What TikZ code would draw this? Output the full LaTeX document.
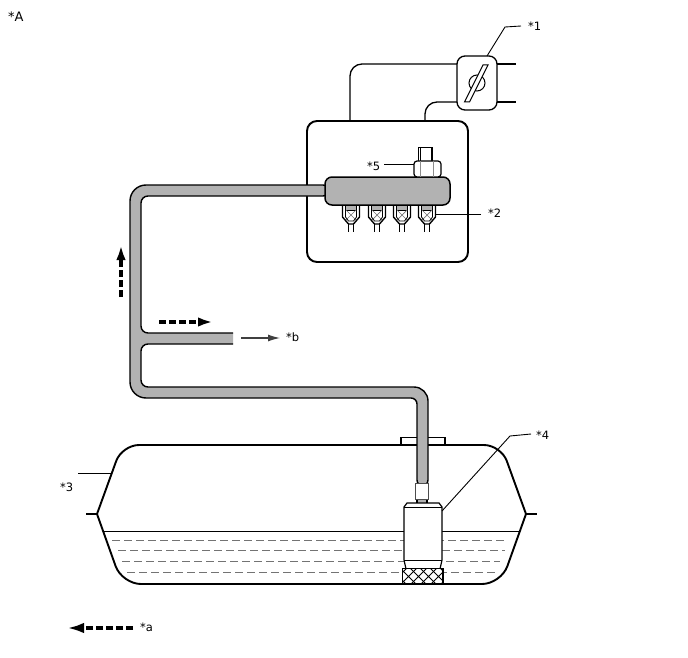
\documentclass[tikz,border=0pt]{standalone}
\usepackage{fontspec}
\setmainfont{DejaVu Sans}
\usetikzlibrary{arrows.meta}

\tikzset{
  callout/.style={font=\fontsize{11.5}{14}\selectfont,inner sep=0pt},
  leader/.style={line width=0.9pt},
  wire/.style={line width=1.3pt,rounded corners=12},
  heavy/.style={line width=1.9pt},
  pipefill/.style={fill=black!30,draw=black,line width=1.4pt},
  flowarrow/.style={line width=3.8pt,dash pattern=on 7pt off 3pt,-{Latex[length=15pt,width=9.5pt]}},
  fuelline/.style={black!55,line width=1pt,dash pattern=on 8pt off 4pt}
}

\begin{document}
\begin{tikzpicture}[x=1pt,y=-1pt]
  \useasboundingbox (0,0) rectangle (688,658);
  % caja del riel
  \node[draw,heavy,rounded corners=10,minimum width=161pt,minimum height=141pt,inner sep=0pt,outer sep=0pt] (box) at (387.5,191.5) {};
  % valvula y cables
  \node[draw,line width=1.3pt,rounded corners=8,minimum width=40pt,minimum height=54pt,inner sep=0pt,outer sep=0pt] (valve) at (477,83) {};
  \draw[wire] ([xshift=-37.5pt]box.north) |- ([yshift=19pt]valve.west);
  \draw[wire] ([xshift=37.5pt]box.north) |- ([yshift=-19pt]valve.west);
  \coordinate (stubA) at (516,64);
  \coordinate (stubB) at (516,102);
  \draw[line width=1.2pt] ([yshift=19pt]valve.east) -- (stubA);
  \draw[line width=1.2pt] ([yshift=-19pt]valve.east) -- (stubB);
  \draw[line width=1pt] (477,83) circle(8);
  \draw[line width=1pt,fill=white] (464.5,102) -- (469.5,102) -- (488,65) -- (483,65) -- cycle;
  % tanque
  \coordinate (earL) at (86,514);
  \coordinate (earR) at (537,514);
  \draw[line width=1pt] (103,531) -- (520,531);
  \foreach \yfuel/\xa/\xb in {540/112/507,550/118/505,561/122/500,572/127/498} {
    \draw[fuelline] (\xa,\yfuel) -- (\xb,\yfuel);
  }
  \draw[heavy] (401,445) -- (401,437.5) -- (445,437.5) -- (445,445);
  \draw[heavy,rounded corners=17] (97,514) -- (122,445) -- (501,445) -- (526,514);
  \draw[heavy,rounded corners=19] (97,514) -- (122,584) -- (501,584) -- (526,514);
  \draw[heavy] (earL) -- (97,514) (526,514) -- (earR);
  % tuberia
  \draw[pipefill] (233,333) -- (148,333) [rounded corners=7] -- (141,333) -- (141,196) -- (330,196) -- (330,185)
    [rounded corners=16] -- (130,185) -- (130,398) [rounded corners=6] -- (417,398) -- (417,486) -- (428,486)
    [rounded corners=14] -- (428,387) [rounded corners=7] -- (141,387) -- (141,344) -- (233,344);
  % riel e inyectores
  \foreach \inj in {351,377,402,427} {
    \begin{scope}[xshift=\inj pt]
      \draw[line width=1.3pt] (-2.5,223) -- (-2.5,232) (2.5,223) -- (2.5,232);
      \draw[line width=1.4pt,fill=white] (-8.5,204) -- (-8.5,217) -- (-2.5,224) -- (2.5,224) -- (8.5,217) -- (8.5,204) -- cycle;
      \draw[line width=1pt] (-5.5,204) -- (-5.5,217) (5.5,204) -- (5.5,217);
      \fill[black!30] (-5,204) rectangle (5,209.5);
      \draw[line width=0.8pt] (-5.5,210) -- (5.5,210);
      \draw[black!55,line width=0.7pt] (-5,210) -- (5,220) (-5,220) -- (5,210);
      \draw[line width=0.8pt] (-5.5,217) -- (-2.5,221) -- (2.5,221) -- (5.5,217);
    \end{scope}
  }
  \node[draw,pipefill,line width=1.5pt,rounded corners=7,minimum width=125pt,minimum height=28pt,inner sep=0pt,outer sep=0pt] (rail) at (387.5,191) {};
  % regulador
  \draw[line width=1.2pt,fill=white] (418.5,147.5) rectangle (432,161.5);
  \draw[line width=0.8pt] (420.5,147.5) -- (420.5,161.5);
  \node[draw,fill=white,line width=1.2pt,rounded corners=3,minimum width=27pt,minimum height=16pt,inner sep=0pt,outer sep=0pt] (nut) at (427.5,169) {};
  \draw[black!45,line width=0.8pt] (420,161) -- (420,177) (433,161) -- (433,177);
  % acople, bomba y filtro
  \draw[pipefill,line width=1.1pt] (417,498) rectangle (427,504);
  \node[draw=black!70,fill=white,line width=0.9pt,minimum width=13pt,minimum height=16pt,inner sep=0pt,outer sep=0pt] (coupler) at (421.5,491) {};
  \draw[line width=1.2pt,fill=white] (404,507) -- (407,503) -- (439,503) -- (442,507) -- (442,560) -- (440,569) -- (406,569) -- (404,560) -- cycle;
  \draw[line width=1pt] (404,507) -- (442,507) (404,560) -- (442,560);
  \begin{scope}
    \clip (402.5,568.5) rectangle (443,584);
    \fill[white] (402.5,568.5) rectangle (443,584);
    \foreach \xh in {390,400,...,450} {
      \draw[line width=0.9pt] (\xh,568) -- (\xh+17,585) (\xh,585) -- (\xh+17,568);
    }
  \end{scope}
  \draw[line width=1.1pt] (402.5,568.5) rectangle (443,584);
  % flechas de flujo
  \draw[flowarrow] (121,297) -- (121,245);
  \draw[flowarrow] (159,322) -- (213,322);
  \draw[flowarrow,-{Latex[length=17pt,width=10.5pt]}] (133,628) -- (67,628);
  \coordinate (vent) at (241,338);
  \node[callout,anchor=west] (lblb) at (286,337) {*b};
  \draw[black!75,line width=1.1pt,-{Latex[length=12pt,width=7pt]}] (vent) -- (280,338);
  % etiquetas
  \node[callout,font=\fontsize{13}{15}\selectfont,anchor=west] (lblA) at (8,17) {*A};
  \node[callout,anchor=west] (lbl1) at (528,26) {*1};
  \node[callout,anchor=west] (lbl2) at (488,213) {*2};
  \node[callout,anchor=west] (lbl3) at (60,487) {*3};
  \node[callout,anchor=west] (lbl4) at (536,435) {*4};
  \node[callout,anchor=west] (lbl5) at (367,166.5) {*5};
  \node[callout,anchor=west] (lbla) at (140,627) {*a};
  \coordinate (tank3) at (112,473);
  \coordinate (pump4) at (442,511);
  \coordinate (inj2) at (435,214);
  \draw[leader] ([xshift=-7pt]lbl1.west) -- (505,27) -- (487,56);
  \draw[leader] ([xshift=-7pt]lbl2.west |- inj2) -- (inj2);
  \draw[leader] (78,473) -- (tank3);
  \draw[leader] ([xshift=-5pt,yshift=1pt]lbl4.west) -- (510,436) -- (pump4);
  \draw[leader] (384,164) -- (nut.west |- 0,164);
\end{tikzpicture}
\end{document}
